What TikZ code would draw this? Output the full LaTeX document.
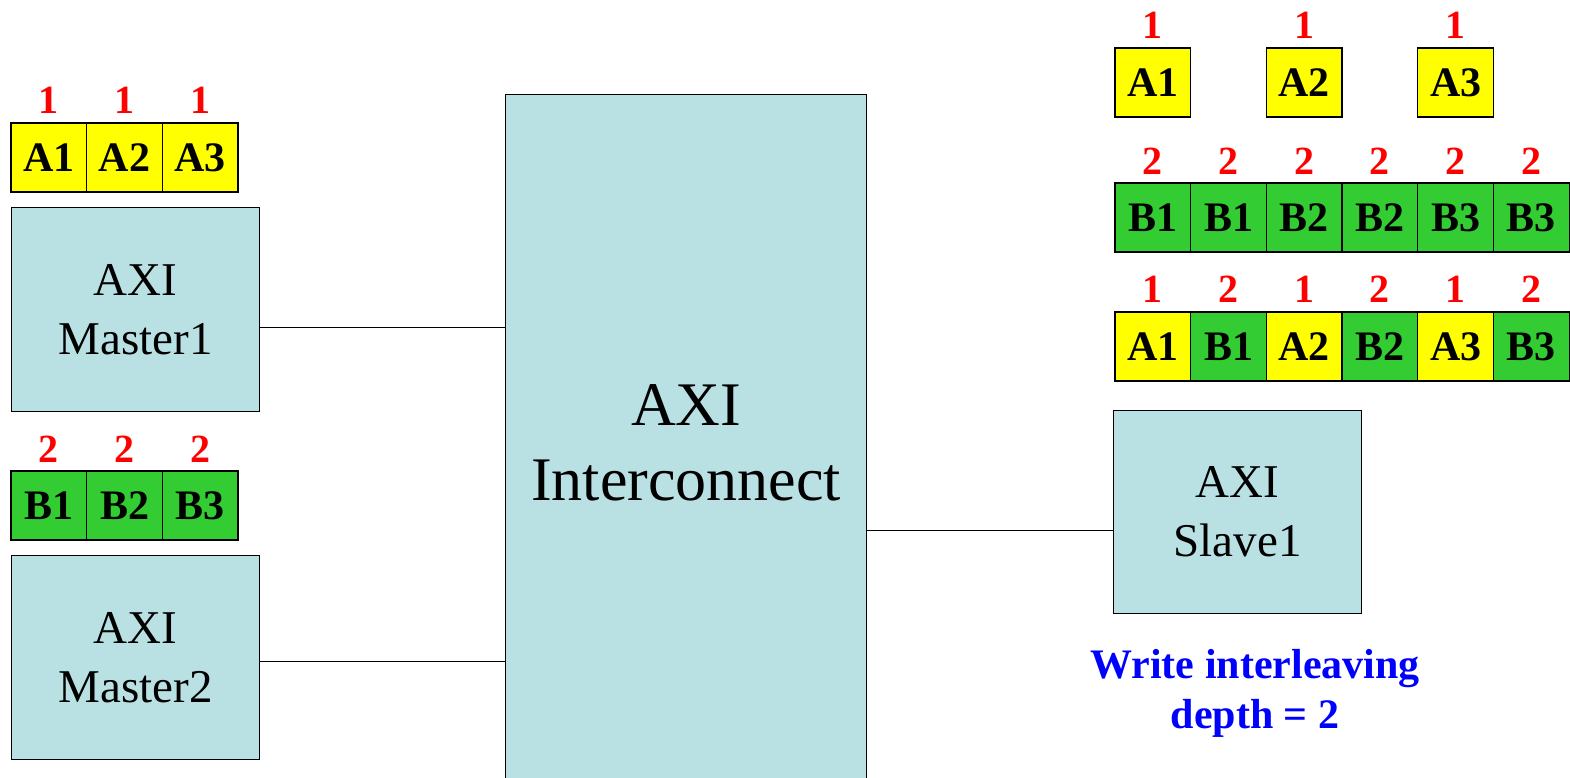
\documentclass[tikz,border=0pt]{standalone}
\usepackage{fontspec}
\setmainfont{Liberation Serif}
\definecolor{axiblue}{RGB}{185,224,227}
\definecolor{axiyellow}{RGB}{255,255,0}
\definecolor{axigreen}{RGB}{51,204,51}
\begin{document}
\begin{tikzpicture}[x=1pt,y=-1pt,
  cell/.style={draw, line width=1.3pt, minimum width=75.7pt, minimum height=69pt, inner sep=0pt, font=\fontsize{42}{42}\selectfont\bfseries},
  ya/.style={cell, fill=axiyellow},
  gb/.style={cell, fill=axigreen},
  num/.style={text=red, font=\fontsize{40}{40}\selectfont\bfseries, inner sep=0pt, anchor=base},
  blk/.style={draw, line width=1.3pt, fill=axiblue, align=center, inner sep=0pt, anchor=north west, font=\fontsize{47}{59}\selectfont},
  wire/.style={line width=1.3pt}]
\useasboundingbox (0,0) rectangle (1570,777);
\clip (0,0) rectangle (1570,777);
% masters
\node[blk, minimum width=248pt, minimum height=204pt] (m1) at (11,207) {AXI\\Master1};
\node[blk, minimum width=248pt, minimum height=204pt] (m2) at (11,555) {AXI\\Master2};
% interconnect
\node[blk, minimum width=361pt, minimum height=697pt, font=\fontsize{62}{75}\selectfont] (ic) at (505,94) {AXI\\Interconnect};
% slave
\node[blk, minimum width=248pt, minimum height=203pt] (s1) at (1113,410) {AXI\\Slave1};
% wires
\draw[wire] ([yshift=-18pt]m1.east) -- ([yshift=-18pt]m1.east -| ic.west);
\draw[wire] ([yshift=-4pt]m2.east) -- ([yshift=-4pt]m2.east -| ic.west);
\draw[wire] ([yshift=-18.5pt]s1.west -| ic.east) -- ([yshift=-18.5pt]s1.west);
% left A row
\foreach \t [count=\i] in {A1,A2,A3} {
  \node[ya] (la\i) at ({11+75.7*(\i-0.5)},157.5) {\t};
  \node[num] (lan\i) at ({11+75.7*(\i-0.5)},113) {1};
}
% left B row
\foreach \t [count=\i] in {B1,B2,B3} {
  \node[gb] (lb\i) at ({11+75.7*(\i-0.5)},505.5) {\t};
  \node[num] (lbn\i) at ({11+75.7*(\i-0.5)},462) {2};
}
% right top A row
\foreach \t/\k [count=\i] in {A1/1,A2/3,A3/5} {
  \node[ya] (ra\i) at ({1115+75.7*(\k-0.5)},82.5) {\t};
  \node[num] (ran\i) at ({1115+75.7*(\k-0.5)},38) {1};
}
% right B row
\foreach \t [count=\i] in {B1,B1,B2,B2,B3,B3} {
  \node[gb] (rb\i) at ({1115+75.7*(\i-0.5)},217.5) {\t};
  \node[num] (rbn\i) at ({1115+75.7*(\i-0.5)},174) {2};
}
% right mixed row
\foreach \t/\c/\n [count=\i] in {A1/ya/1,B1/gb/2,A2/ya/1,B2/gb/2,A3/ya/1,B3/gb/2} {
  \node[\c] (rm\i) at ({1115+75.7*(\i-0.5)},346.5) {\t};
  \node[num] (rmn\i) at ({1115+75.7*(\i-0.5)},302) {\n};
}
% note
\node[align=center, text=blue, inner sep=0pt, font=\fontsize{42}{50}\selectfont\bfseries] (note) at (1255,693) {Write interleaving\\depth = 2};
\end{tikzpicture}
\end{document}
